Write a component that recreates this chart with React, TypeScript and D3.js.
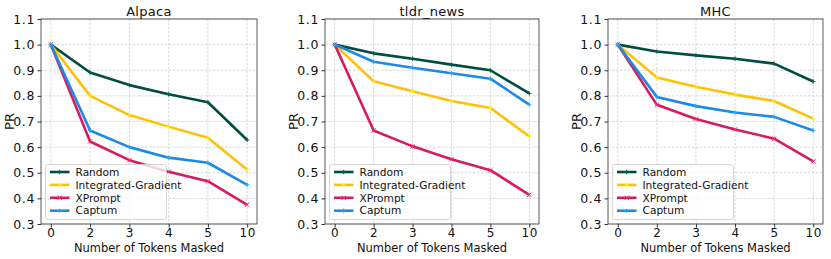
import { useEffect, useRef } from 'react';
import * as d3 from 'd3';

const tokens = ['0', '2', '3', '4', '5', '10'];
const methods = ['Random', 'Integrated-Gradient', 'XPrompt', 'Captum'];
const colors = ['#004D40', '#FFC107', '#D81B60', '#1E88E5'];
const yTicks = [0.3, 0.4, 0.5, 0.6, 0.7, 0.8, 0.9, 1.0, 1.1];

const alpacaRandom = [1.0, 0.891, 0.842, 0.806, 0.775, 0.628];
const alpacaIG = [1.0, 0.8, 0.725, 0.68, 0.637, 0.512];
const alpacaXPrompt = [1.0, 0.622, 0.549, 0.504, 0.467, 0.375];
const alpacaCaptum = [1.0, 0.665, 0.6, 0.559, 0.539, 0.453];

const tldrRandom = [1.0, 0.966, 0.945, 0.922, 0.9, 0.81];
const tldrIG = [1.0, 0.857, 0.818, 0.78, 0.753, 0.642];
const tldrXPrompt = [1.0, 0.665, 0.603, 0.553, 0.51, 0.414];
const tldrCaptum = [1.0, 0.933, 0.91, 0.888, 0.867, 0.766];

const mhcRandom = [1.0, 0.973, 0.958, 0.945, 0.926, 0.856];
const mhcIG = [1.0, 0.872, 0.836, 0.805, 0.78, 0.711];
const mhcXPrompt = [1.0, 0.765, 0.71, 0.669, 0.633, 0.544];
const mhcCaptum = [1.0, 0.796, 0.76, 0.735, 0.718, 0.665];

const panels = [
  { title: 'Alpaca', x0: 41, x1: 257, series: [alpacaRandom, alpacaIG, alpacaXPrompt, alpacaCaptum] },
  { title: 'tldr_news', x0: 325, x1: 539, series: [tldrRandom, tldrIG, tldrXPrompt, tldrCaptum] },
  { title: 'MHC', x0: 608, x1: 823, series: [mhcRandom, mhcIG, mhcXPrompt, mhcCaptum] },
];

const FONT = 'DejaVu Sans, sans-serif';

export default function App() {
  const svgRef = useRef<SVGSVGElement>(null);

  useEffect(() => {
    if (!svgRef.current) return;
    const root = d3.select(svgRef.current);
    root.selectAll('*').remove();

    const top = 19;
    const bottom = 224;
    const y = d3.scaleLinear().domain([0.3, 1.1]).range([bottom, top]);

    const marker = (g: any, type: number, cx: number, cy: number, color: string) => {
      const s = 2.2;
      if (type === 2) {
        g.append('path')
          .attr('d', `M${cx - s},${cy - s}L${cx + s},${cy + s}M${cx - s},${cy + s}L${cx + s},${cy - s}`)
          .attr('stroke', color)
          .attr('stroke-width', 1);
      } else {
        g.append('path')
          .attr('d', `M${cx - s},${cy}L${cx + s},${cy}M${cx},${cy - s}L${cx},${cy + s}`)
          .attr('stroke', color)
          .attr('stroke-width', 1);
      }
    };

    panels.forEach((p) => {
      const x = d3.scaleLinear().domain([-0.25, 5.25]).range([p.x0, p.x1]);
      const g = root.append('g');

      // grid
      g.selectAll('.gy')
        .data(yTicks)
        .enter()
        .append('line')
        .attr('x1', p.x0)
        .attr('x2', p.x1)
        .attr('y1', (d) => y(d))
        .attr('y2', (d) => y(d))
        .attr('stroke', '#b0b0b0')
        .attr('stroke-width', 0.8)
        .attr('stroke-dasharray', '2.5,1.5')
        .attr('opacity', 0.6);
      g.selectAll('.gx')
        .data(tokens)
        .enter()
        .append('line')
        .attr('x1', (_d, i) => x(i))
        .attr('x2', (_d, i) => x(i))
        .attr('y1', top)
        .attr('y2', bottom)
        .attr('stroke', '#b0b0b0')
        .attr('stroke-width', 0.8)
        .attr('stroke-dasharray', '2.5,1.5')
        .attr('opacity', 0.6);

      // lines
      const line = d3
        .line<number>()
        .x((_d, i) => x(i))
        .y((d) => y(d));
      p.series.forEach((vals, si) => {
        g.append('path')
          .datum(vals)
          .attr('fill', 'none')
          .attr('stroke', colors[si])
          .attr('stroke-width', 2.6)
          .attr('stroke-linejoin', 'round')
          .attr('d', line);
        vals.forEach((v, i) => marker(g, si, x(i), y(v), d3.color(colors[si])!.brighter(0.6).toString()));
      });

      // frame
      g.append('rect')
        .attr('x', p.x0)
        .attr('y', top)
        .attr('width', p.x1 - p.x0)
        .attr('height', bottom - top)
        .attr('fill', 'none')
        .attr('stroke', '#333')
        .attr('stroke-width', 0.8);

      // y axis
      const ya = g.append('g').attr('transform', `translate(${p.x0},0)`).call(
        d3.axisLeft(y).tickValues(yTicks).tickFormat(d3.format('.1f')).tickSize(3.5).tickPadding(2.5)
      );
      ya.select('.domain').remove();
      ya.selectAll('text')
        .attr('font-size', 12.5)
        .attr('letter-spacing', 0.6)
        .attr('font-family', FONT)
        .attr('fill', '#111');
      ya.selectAll('line').attr('stroke', '#333');

      // x axis
      const xa = g.append('g').attr('transform', `translate(0,${bottom})`).call(
        d3
          .axisBottom(x)
          .tickValues(tokens.map((_d, i) => i))
          .tickFormat((d) => tokens[d as number])
          .tickSize(3.5)
          .tickPadding(1.2)
      );
      xa.select('.domain').remove();
      xa.selectAll('text')
        .attr('font-size', 12)
        .attr('letter-spacing', 0.6)
        .attr('font-family', FONT)
        .attr('fill', '#111');
      xa.selectAll('line').attr('stroke', '#333');

      const cx = (p.x0 + p.x1) / 2;
      g.append('text')
        .attr('x', cx)
        .attr('y', 15.5)
        .attr('text-anchor', 'middle')
        .attr('font-size', 13)
        .attr('font-family', FONT)
        .attr('fill', '#111')
        .attr('letter-spacing', 0.3)
        .text(p.title);
      g.append('text')
        .attr('x', cx)
        .attr('y', 251.5)
        .attr('text-anchor', 'middle')
        .attr('font-size', 11.5)
        .attr('font-family', FONT)
        .attr('fill', '#111')
        .attr('textLength', 150)
        .attr('lengthAdjust', 'spacingAndGlyphs')
        .text('Number of Tokens Masked');
      g.append('text')
        .attr('transform', `translate(${p.x0 - 27},${(top + bottom) / 2}) rotate(-90)`)
        .attr('text-anchor', 'middle')
        .attr('font-size', 13)
        .attr('font-family', FONT)
        .attr('fill', '#111')
        .text('PR');

      // legend
      const lx = p.x0 + 4.5;
      const ly = 164.5;
      const leg = g.append('g');
      leg
        .append('rect')
        .attr('x', lx)
        .attr('y', ly)
        .attr('width', 121)
        .attr('height', 55)
        .attr('rx', 2)
        .attr('fill', 'rgba(255,255,255,0.8)')
        .attr('stroke', '#ccc')
        .attr('stroke-width', 0.8);
      methods.forEach((m, i) => {
        const yy = ly + 7.5 + i * 12.9;
        leg
          .append('line')
          .attr('x1', lx + 4.5)
          .attr('x2', lx + 24)
          .attr('y1', yy)
          .attr('y2', yy)
          .attr('stroke', colors[i])
          .attr('stroke-width', 2.6);
        marker(leg, i, lx + 14.2, yy, d3.color(colors[i])!.brighter(0.6).toString());
        leg
          .append('text')
          .attr('x', lx + 30)
          .attr('y', yy + 3.7)
          .attr('font-size', 10.6)
          .attr('font-family', FONT)
          .attr('fill', '#111')
          .text(m);
      });
    });
  }, []);

  return <svg ref={svgRef} width={831} height={259} style={{ position: 'absolute', left: 0, top: 0 }} />;
}
